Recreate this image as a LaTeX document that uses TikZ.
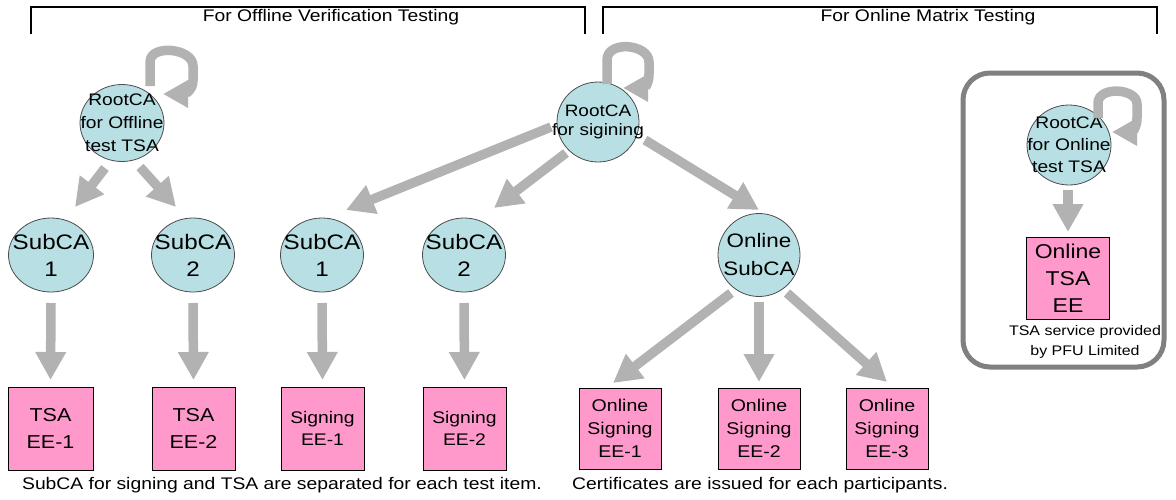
\documentclass[tikz,border=0pt]{standalone}
\usepackage{fontspec}
\setmainfont{Liberation Sans}[FakeStretch=1.15]
\usetikzlibrary{arrows.meta,shapes.geometric}
\definecolor{cafill}{RGB}{184,224,228}
\definecolor{eefill}{RGB}{255,153,204}
\definecolor{arrgray}{RGB}{178,178,178}
\definecolor{boxgray}{RGB}{128,128,128}
\newcommand\fsz[2]{\fontsize{#1}{#2}\selectfont}
\begin{document}
\begin{tikzpicture}[x=1pt,y=-1pt,
  ca/.style={ellipse, draw=black!70, fill=cafill, line width=0.8pt, inner sep=0pt},
  catext/.style={align=center, inner sep=0pt},
  ee/.style={rectangle, draw=black, fill=eefill, line width=0.8pt, inner sep=0pt, align=center},
  arr/.style={draw=arrgray, line width=9.5pt, -{Triangle[width=29pt,length=28pt]}},
  selfloop/.style={draw=arrgray, line width=9.5pt, -{Triangle[width=26pt,length=25pt]}},
  brk/.style={draw=black, line width=1.2pt},
  lbl/.style={inner sep=0pt, align=center, font=\fsz{16.8}{20}}
]
\useasboundingbox (0,0) rectangle (1176,499);

% brackets
\draw[brk] (31,34) -- (31,7) -- (585,7) -- (585,34);
\draw[brk] (603,34) -- (603,7) -- (1157,7) -- (1157,34);
\node[lbl] (hdr1) at (331,17) {For Offline Verification Testing};
\node[lbl] (hdr2) at (928,17) {For Online Matrix Testing};

% rounded box
\draw[draw=boxgray, line width=5pt, rounded corners=27pt] (963,73) rectangle (1164,367);

% roots
\node[ca, minimum width=84pt, minimum height=77pt,
  label={[catext, font=\fsz{16.7}{23}]center:{RootCA\\for Offline\\test TSA}}] (rootoff) at (122,123) {};
\node[ca, minimum width=82pt, minimum height=80pt,
  label={[catext, font=\fsz{16.5}{19}]center:{RootCA\\for sigining}}] (rootsig) at (598,122) {};
\node[ca, minimum width=84pt, minimum height=80pt,
  label={[catext, font=\fsz{16.7}{22}]center:{RootCA\\for Online\\test TSA}}] (rooton) at (1069,145) {};

% sub CAs
\node[ca, minimum width=85pt, minimum height=74pt,
  label={[catext, font=\fsz{21}{27}]center:{SubCA\\1}}] (sub1) at (51,255) {};
\node[ca, minimum width=83pt, minimum height=74pt,
  label={[catext, font=\fsz{21}{27}]center:{SubCA\\2}}] (sub2) at (193,255) {};
\node[ca, minimum width=83pt, minimum height=74pt,
  label={[catext, font=\fsz{21}{27}]center:{SubCA\\1}}] (sub1s) at (322,255) {};
\node[ca, minimum width=83pt, minimum height=74pt,
  label={[catext, font=\fsz{21}{27}]center:{SubCA\\2}}] (sub2s) at (464,255) {};
\node[ca, minimum width=82pt, minimum height=83pt,
  label={[catext, font=\fsz{19.5}{28}]center:{Online\\SubCA}}] (osub) at (759,255) {};

% EE boxes
\node[ee, minimum width=85pt, minimum height=83pt, font=\fsz{18.7}{27}] (tsa1) at (50.5,428.5) {TSA\\EE-1};
\node[ee, minimum width=83pt, minimum height=83pt, font=\fsz{18.7}{27}] (tsa2) at (193.5,428.5) {TSA\\EE-2};
\node[ee, minimum width=83pt, minimum height=83pt, font=\fsz{16.8}{22}] (sig1) at (322.5,428.5) {Signing\\EE-1};
\node[ee, minimum width=83pt, minimum height=83pt, font=\fsz{16.8}{22}] (sig2) at (464.5,428.5) {Signing\\EE-2};
\node[ee, minimum width=82pt, minimum height=81pt, font=\fsz{17}{23}] (osig1) at (620,428.5) {Online\\Signing\\EE-1};
\node[ee, minimum width=82pt, minimum height=81pt, font=\fsz{17}{23}] (osig2) at (759,428.5) {Online\\Signing\\EE-2};
\node[ee, minimum width=82pt, minimum height=81pt, font=\fsz{17}{23}] (osig3) at (887,428.5) {Online\\Signing\\EE-3};
\node[ee, minimum width=83pt, minimum height=82pt, font=\fsz{20}{27}] (otsa) at (1068,278) {Online\\TSA\\EE};

% captions
\node[lbl, font=\fsz{13.9}{20}] (tsacap) at (1085,342) {TSA service provided\\by PFU Limited};
\node[lbl] (cap1) at (282,485) {SubCA for signing and TSA are separated for each test item.};
\node[lbl] (cap2) at (760,485) {Certificates are issued for each participants.};

% self loops
\draw[selfloop] ([shift={(28,-37)}]rootoff.center) -- ++(0,-24)
   .. controls +(0,-18) and +(0,-18) .. ++(43,4) -- ++(0,14)
   .. controls +(0,12) and +(20,0) .. ++(-30,14);
\draw[selfloop] ([shift={(9,-38)}]rootsig.center) -- ++(0,-24)
   .. controls +(0,-20) and +(0,-18) .. ++(42,2) -- ++(0,12)
   .. controls +(0,12) and +(20,0) .. ++(-26,14);
\draw[selfloop] ([shift={(29,-27)}]rooton.center) -- ++(0,-15)
   .. controls +(0,-17) and +(0,-16) .. ++(39,1) -- ++(0,14)
   .. controls +(0,12) and +(18,0) .. ++(-25,14);

% arrows
\draw[arr] ([shift={(-17,45)}]rootoff.center) -- ([shift={(24,-48)}]sub1.center);
\draw[arr] ([shift={(18,44)}]rootoff.center) -- ([shift={(-17,-48)}]sub2.center);
\draw[arr] ([shift={(-47,5)}]rootsig.center) -- ([shift={(24,-45)}]sub1s.center);
\draw[arr] ([shift={(-32,31)}]rootsig.center) -- ([shift={(30,-47)}]sub2s.center);
\draw[arr] ([shift={(47,18)}]rootsig.center) -- ([shift={(0,-45)}]osub.center);

\draw[arr] ([shift={(0,48)}]sub1.center) -- ([shift={(0,-48.5)}]tsa1.center);
\draw[arr] ([shift={(0,48)}]sub2.center) -- ([shift={(0,-48.5)}]tsa2.center);
\draw[arr] ([shift={(0,48)}]sub1s.center) -- ([shift={(0,-48.5)}]sig1.center);
\draw[arr] ([shift={(0,48)}]sub2s.center) -- ([shift={(0,-48.5)}]sig2.center);

\draw[arr] ([shift={(-28,38)}]osub.center) -- ([shift={(-7,-45.5)}]osig1.center);
\draw[arr] ([shift={(0,47)}]osub.center) -- ([shift={(0,-46.5)}]osig2.center);
\draw[arr] ([shift={(28,38)}]osub.center) -- ([shift={(0,-46.5)}]osig3.center);

\draw[arr] ([shift={(-1,45)}]rooton.center) -- ([shift={(0,-46)}]otsa.center);
\end{tikzpicture}
\end{document}
